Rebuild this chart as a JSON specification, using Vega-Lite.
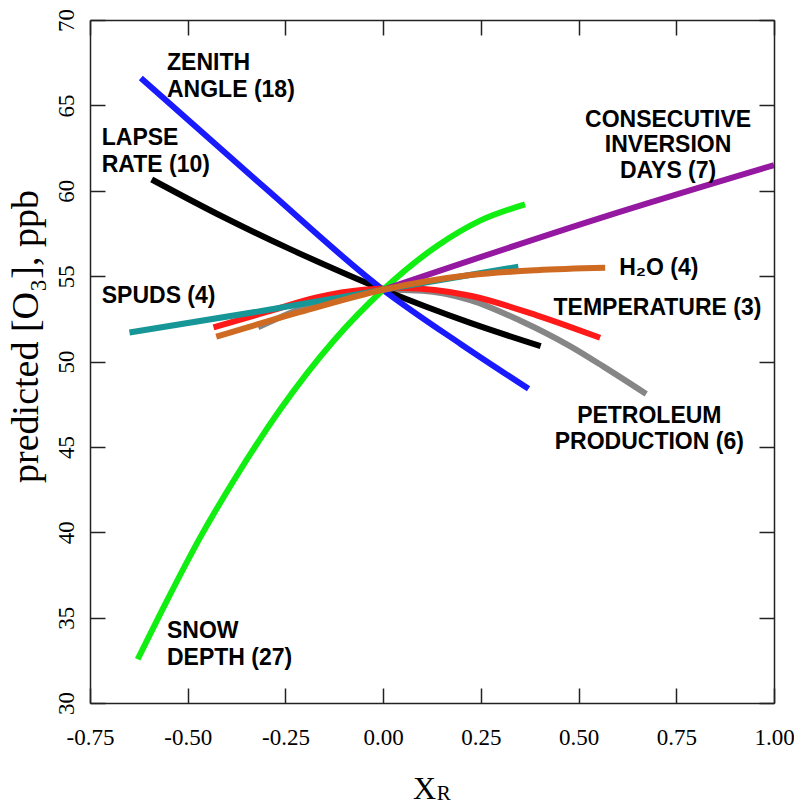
{
  "$schema": "https://vega.github.io/schema/vega-lite/v6.json",
  "width": 684,
  "height": 683,
  "autosize": {"type": "none"},
  "padding": {"left": 90, "top": 20, "right": 20, "bottom": 101},
  "background": "white",
  "config": {"view": {"stroke": null}},
  "datasets": {
    "curves": [
      {"series": "PETROLEUM", "x": -0.32, "y": 52.0},
      {"series": "PETROLEUM", "x": -0.15, "y": 53.6},
      {"series": "PETROLEUM", "x": 0.0, "y": 54.2},
      {"series": "PETROLEUM", "x": 0.1, "y": 54.15},
      {"series": "PETROLEUM", "x": 0.223, "y": 53.6},
      {"series": "PETROLEUM", "x": 0.35, "y": 52.4},
      {"series": "PETROLEUM", "x": 0.478, "y": 50.9},
      {"series": "PETROLEUM", "x": 0.564, "y": 49.7},
      {"series": "PETROLEUM", "x": 0.673, "y": 48.1},
      {"series": "LAPSE", "x": -0.592, "y": 60.66},
      {"series": "LAPSE", "x": -0.409, "y": 58.46},
      {"series": "LAPSE", "x": -0.238, "y": 56.58},
      {"series": "LAPSE", "x": -0.1, "y": 55.17},
      {"series": "LAPSE", "x": 0.0, "y": 54.2},
      {"series": "LAPSE", "x": 0.223, "y": 52.26},
      {"series": "LAPSE", "x": 0.403, "y": 50.9},
      {"series": "ZENITH", "x": -0.62, "y": 66.6},
      {"series": "ZENITH", "x": -0.304, "y": 60.2},
      {"series": "ZENITH", "x": 0.0, "y": 54.2},
      {"series": "ZENITH", "x": 0.2, "y": 51.0},
      {"series": "ZENITH", "x": 0.372, "y": 48.4},
      {"series": "TEMPERATURE", "x": -0.434, "y": 52.0},
      {"series": "TEMPERATURE", "x": -0.298, "y": 52.9},
      {"series": "TEMPERATURE", "x": -0.17, "y": 53.75},
      {"series": "TEMPERATURE", "x": -0.05, "y": 54.2},
      {"series": "TEMPERATURE", "x": 0.05, "y": 54.3},
      {"series": "TEMPERATURE", "x": 0.223, "y": 53.85},
      {"series": "TEMPERATURE", "x": 0.393, "y": 52.7},
      {"series": "TEMPERATURE", "x": 0.478, "y": 52.03},
      {"series": "TEMPERATURE", "x": 0.555, "y": 51.39},
      {"series": "SPUDS", "x": -0.649, "y": 51.7},
      {"series": "SPUDS", "x": -0.3, "y": 53.0},
      {"series": "SPUDS", "x": 0.0, "y": 54.2},
      {"series": "SPUDS", "x": 0.346, "y": 55.55},
      {"series": "SNOW", "x": -0.628, "y": 32.56},
      {"series": "SNOW", "x": -0.553, "y": 36.0},
      {"series": "SNOW", "x": -0.468, "y": 39.7},
      {"series": "SNOW", "x": -0.383, "y": 43.0},
      {"series": "SNOW", "x": -0.263, "y": 47.2},
      {"series": "SNOW", "x": -0.127, "y": 51.2},
      {"series": "SNOW", "x": 0.0, "y": 54.2},
      {"series": "SNOW", "x": 0.137, "y": 56.75},
      {"series": "SNOW", "x": 0.248, "y": 58.25},
      {"series": "SNOW", "x": 0.363, "y": 59.2},
      {"series": "INVERSION", "x": 0.0, "y": 54.2},
      {"series": "INVERSION", "x": 0.555, "y": 58.4},
      {"series": "INVERSION", "x": 1.0, "y": 61.5},
      {"series": "H2O", "x": -0.427, "y": 51.45},
      {"series": "H2O", "x": -0.212, "y": 52.9},
      {"series": "H2O", "x": 0.0, "y": 54.2},
      {"series": "H2O", "x": 0.223, "y": 55.06},
      {"series": "H2O", "x": 0.393, "y": 55.35},
      {"series": "H2O", "x": 0.568, "y": 55.49}
    ],
    "labelsLeft": [
      {"x": -0.553, "y": 67.06, "label": "ZENITH\nANGLE (18)"},
      {"x": -0.72, "y": 62.67, "label": "LAPSE\nRATE (10)"},
      {"x": -0.72, "y": 53.44, "label": "SPUDS (4)"},
      {"x": -0.553, "y": 33.79, "label": "SNOW\nDEPTH (27)"},
      {"x": 0.604, "y": 55.06, "label": "H₂O (4)"},
      {"x": 0.436, "y": 52.72, "label": "TEMPERATURE (3)"}
    ],
    "labelsCenter": [
      {"x": 0.729, "y": 63.74, "label": "CONSECUTIVE\nINVERSION\nDAYS (7)"},
      {"x": 0.681, "y": 46.38, "label": "PETROLEUM\nPRODUCTION (6)"}
    ],
    "subscript": [
      {"x": 0.137, "y": 24.32, "label": "R"}
    ]
  },
  "resolve": {"axis": {"x": "independent", "y": "independent"}},
  "layer": [
    {
      "data": {"name": "curves"},
      "mark": {"type": "line", "strokeWidth": 6, "strokeCap": "butt", "interpolate": "monotone", "clip": true},
      "encoding": {
        "x": {
          "field": "x", "type": "quantitative",
          "scale": {"domain": [-0.75, 1.0], "nice": false, "zero": false},
          "axis": {
            "orient": "bottom", "values": [-0.75, -0.5, -0.25, 0, 0.25, 0.5, 0.75, 1.0],
            "labelExpr": "replace(format(datum.value, '.2f'), '\u2212', '-')",
            "grid": false, "tickSize": -15, "tickWidth": 1.5, "tickColor": "#222",
            "domainColor": "#222", "domainWidth": 1.5,
            "labelFont": "Liberation Serif", "labelFontSize": 23, "labelColor": "#000",
            "labelPadding": 38, "labelFlush": false,
            "title": "X", "titleFont": "Liberation Serif", "titleFontSize": 32, "titleFontWeight": "normal",
            "titleColor": "#000", "titleX": 334, "titleY": 95, "titleBaseline": "alphabetic", "titleAlign": "center"
          }
        },
        "y": {
          "field": "y", "type": "quantitative",
          "scale": {"domain": [30, 70], "nice": false, "zero": false},
          "axis": {
            "orient": "left", "values": [30, 35, 40, 45, 50, 55, 60, 65, 70],
            "grid": false, "tickSize": -15, "tickWidth": 1.5, "tickColor": "#222",
            "domainColor": "#222", "domainWidth": 1.5,
            "labelFont": "Liberation Serif", "labelFontSize": 23, "labelColor": "#000",
            "labelAngle": 270, "labelPadding": 27, "labelFlush": false,
            "title": "predicted [O₃], ppb", "titleFont": "Liberation Serif", "titleFontSize": 38, "titleFontWeight": "normal",
            "titleColor": "#000", "titleX": -64, "titleY": 316, "titleAngle": 270, "titleBaseline": "middle", "titleAlign": "center"
          }
        },
        "color": {
          "field": "series", "type": "nominal", "legend": null,
          "scale": {
            "domain": ["PETROLEUM", "LAPSE", "ZENITH", "TEMPERATURE", "SPUDS", "SNOW", "INVERSION", "H2O"],
            "range": ["#868686", "#000000", "#1a1aff", "#ff1a1a", "#169696", "#11ee11", "#9418a0", "#cf6a22"]
          }
        }
      }
    },
    {
      "data": {"name": "labelsLeft"},
      "mark": {"type": "text", "align": "left", "baseline": "alphabetic", "font": "Liberation Sans", "fontWeight": "bold", "fontSize": 23, "lineBreak": "\n", "lineHeight": 26.5, "color": "#000"},
      "encoding": {
        "x": {"field": "x", "type": "quantitative", "scale": {"domain": [-0.75, 1.0], "nice": false, "zero": false},
          "axis": {"orient": "top", "values": [-0.75, -0.5, -0.25, 0, 0.25, 0.5, 0.75, 1.0], "labels": false, "title": null, "grid": false,
            "tickSize": -15, "tickWidth": 1.5, "tickColor": "#222", "domainColor": "#222", "domainWidth": 1.5}},
        "y": {"field": "y", "type": "quantitative", "scale": {"domain": [30, 70], "nice": false, "zero": false},
          "axis": {"orient": "right", "values": [30, 35, 40, 45, 50, 55, 60, 65, 70], "labels": false, "title": null, "grid": false,
            "tickSize": -15, "tickWidth": 1.5, "tickColor": "#222", "domainColor": "#222", "domainWidth": 1.5}},
        "text": {"field": "label"}
      }
    },
    {
      "data": {"name": "labelsCenter"},
      "mark": {"type": "text", "align": "center", "baseline": "alphabetic", "font": "Liberation Sans", "fontWeight": "bold", "fontSize": 23, "lineBreak": "\n", "lineHeight": 25.5, "color": "#000"},
      "encoding": {
        "x": {"field": "x", "type": "quantitative", "axis": null},
        "y": {"field": "y", "type": "quantitative", "axis": null},
        "text": {"field": "label"}
      }
    },
    {
      "data": {"name": "subscript"},
      "mark": {"type": "text", "align": "left", "baseline": "alphabetic", "font": "Liberation Serif", "fontSize": 21, "color": "#000", "clip": false},
      "encoding": {
        "x": {"field": "x", "type": "quantitative", "axis": null},
        "y": {"field": "y", "type": "quantitative", "axis": null},
        "text": {"field": "label"}
      }
    }
  ]
}
